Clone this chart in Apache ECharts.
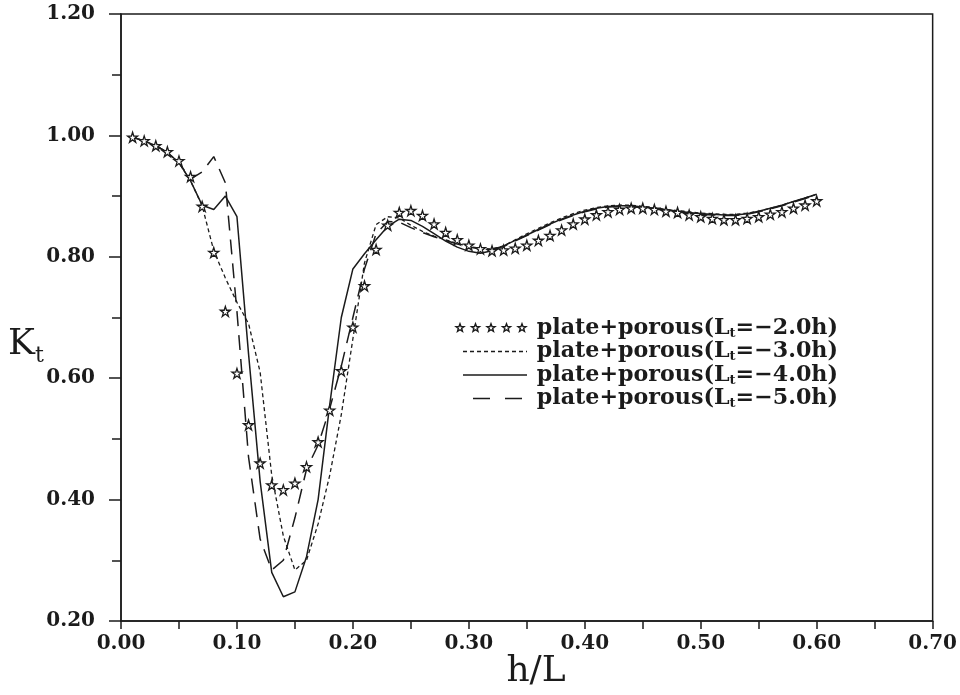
<!DOCTYPE html>
<html>
<head>
<meta charset="utf-8">
<script src="https://cdn.jsdelivr.net/npm/echarts@6/dist/echarts.min.js"></script>
<style>
  html, body { margin: 0; padding: 0; background: #fff; }
  #chart { width: 960px; height: 695px; }
</style>
</head>
<body>
<div id="chart"></div>
<script>
// Relative depth h/L
const hL = [
  0.01, 0.02, 0.03, 0.04, 0.05, 0.06, 0.07, 0.08, 0.09, 0.10,
  0.11, 0.12, 0.13, 0.14, 0.15, 0.16, 0.17, 0.18, 0.19, 0.20,
  0.21, 0.22, 0.23, 0.24, 0.25, 0.26, 0.27, 0.28, 0.29, 0.30,
  0.31, 0.32, 0.33, 0.34, 0.35, 0.36, 0.37, 0.38, 0.39, 0.40,
  0.41, 0.42, 0.43, 0.44, 0.45, 0.46, 0.47, 0.48, 0.49, 0.50,
  0.51, 0.52, 0.53, 0.54, 0.55, 0.56, 0.57, 0.58, 0.59, 0.60
];

// Transmission coefficient Kt, plate + porous, Lt = -2.0h
const kt20 = [
  0.997, 0.991, 0.983, 0.973, 0.958, 0.932, 0.883, 0.807, 0.710, 0.608,
  0.523, 0.460, 0.424, 0.416, 0.427, 0.454, 0.495, 0.547, 0.612, 0.684,
  0.752, 0.812, 0.852, 0.873, 0.876, 0.868, 0.854, 0.840, 0.828, 0.819,
  0.813, 0.810, 0.811, 0.814, 0.819, 0.827, 0.835, 0.844, 0.854, 0.862,
  0.869, 0.874, 0.878, 0.880, 0.880, 0.878, 0.875, 0.873, 0.869, 0.866,
  0.863, 0.861, 0.861, 0.863, 0.866, 0.870, 0.874, 0.880, 0.885, 0.892
];

// Lt = -3.0h
const kt30 = [
  0.997, 0.991, 0.983, 0.972, 0.955, 0.925, 0.884, 0.810, 0.765, 0.725,
  0.690, 0.610, 0.440, 0.340, 0.284, 0.300, 0.360, 0.440, 0.540, 0.665,
  0.790, 0.853, 0.866, 0.864, 0.852, 0.842, 0.834, 0.828, 0.822, 0.817,
  0.814, 0.813, 0.818, 0.828, 0.838, 0.847, 0.856, 0.864, 0.871, 0.877,
  0.881, 0.884, 0.885, 0.885, 0.883, 0.881, 0.878, 0.876, 0.874, 0.872,
  0.871, 0.870, 0.870, 0.872, 0.875, 0.880, 0.885, 0.891, 0.897, 0.903
];

// Lt = -4.0h
const kt40 = [
  0.997, 0.991, 0.983, 0.972, 0.955, 0.925, 0.885, 0.878, 0.900, 0.866,
  0.640, 0.430, 0.280, 0.240, 0.248, 0.306, 0.400, 0.556, 0.700, 0.780,
  0.805, 0.828, 0.850, 0.862, 0.860, 0.850, 0.838, 0.826, 0.816, 0.809,
  0.806, 0.810, 0.818, 0.827, 0.836, 0.845, 0.854, 0.862, 0.869, 0.875,
  0.880, 0.883, 0.884, 0.884, 0.882, 0.880, 0.877, 0.875, 0.873, 0.871,
  0.870, 0.869, 0.869, 0.871, 0.875, 0.880, 0.885, 0.891, 0.897, 0.903
];

// Lt = -5.0h
const kt50 = [
  0.997, 0.991, 0.983, 0.972, 0.955, 0.928, 0.940, 0.965, 0.922, 0.710,
  0.470, 0.335, 0.284, 0.300, 0.370, 0.450, 0.490, 0.550, 0.620, 0.700,
  0.780, 0.838, 0.858, 0.857, 0.848, 0.840, 0.833, 0.827, 0.821, 0.816,
  0.813, 0.813, 0.817, 0.826, 0.835, 0.844, 0.853, 0.861, 0.868, 0.874,
  0.879, 0.882, 0.883, 0.883, 0.881, 0.879, 0.876, 0.874, 0.872, 0.870,
  0.869, 0.868, 0.868, 0.870, 0.874, 0.879, 0.884, 0.890, 0.896, 0.902
];

const seriesNames = ['Lt=-2.0h', 'Lt=-3.0h', 'Lt=-4.0h', 'Lt=-5.0h'];
const legendValues = ['−2.0h', '−3.0h', '−4.0h', '−5.0h'];

const INK = '#1b1b1b';
const SERIF = '"DejaVu Serif", "Liberation Serif", serif';
const STAR = 'M50,2 L61.2,36.3 L97.6,36.3 L68.2,57.6 L79.4,91.9 L50,70.7 L20.6,91.9 L31.8,57.6 L2.4,36.3 L38.8,36.3 Z';

const pairs = arr => hL.map((x, i) => [x, arr[i]]);

// Five-pointed star outline as polygon points around (cx, cy)
function starPoints(cx, cy, r) {
  const pts = [];
  for (let k = 0; k < 10; k++) {
    const rr = k % 2 === 0 ? r : r * 0.42;
    const a = -Math.PI / 2 + k * Math.PI / 5;
    pts.push([cx + rr * Math.cos(a), cy + rr * Math.sin(a)]);
  }
  return pts;
}

const chart = echarts.init(document.getElementById('chart'), null, { renderer: 'canvas' });

// Legend, drawn as graphic elements: sample mark + label per row
const legendTop = 328, legendStep = 23.5;
const extras = [];
legendValues.forEach((v, i) => {
  const cy = legendTop + i * legendStep;
  if (i === 0) {
    for (let k = 0; k < 5; k++) {
      extras.push({
        type: 'polygon',
        shape: { points: starPoints(460 + k * 15.5, cy, 4.2) },
        style: { fill: '#fff', stroke: INK, lineWidth: 1.4 }
      });
    }
  } else {
    const dash = i === 1 ? [4, 3] : (i === 2 ? null : [17, 15]);
    const x1 = i === 3 ? 473 : 463;
    extras.push({
      type: 'line',
      shape: { x1: x1, y1: cy, x2: 527, y2: cy },
      style: { stroke: INK, lineWidth: 1.4, lineDash: dash }
    });
  }
  extras.push({
    type: 'text',
    x: 838, y: cy,
    style: {
      text: '{a|plate+porous(L}{s|t}{a|=' + v + ')}',
      align: 'right',
      verticalAlign: 'middle',
      rich: {
        a: { fontFamily: SERIF, fontWeight: 'bold', fontSize: 22.2, fill: INK, lineHeight: 24 },
        s: { fontFamily: SERIF, fontWeight: 'bold', fontSize: 13, fill: INK, lineHeight: 16, verticalAlign: 'bottom' }
      }
    }
  });
});

// Axis titles
extras.push({
  type: 'text',
  x: 8, y: 345,
  style: {
    text: '{k|K}{t|t}',
    align: 'left',
    verticalAlign: 'middle',
    rich: {
      k: { fontFamily: SERIF, fontSize: 36, fill: INK, lineHeight: 44 },
      t: { fontFamily: SERIF, fontSize: 22, fill: INK, lineHeight: 26, verticalAlign: 'bottom' }
    }
  }
});
extras.push({
  type: 'text',
  x: 536, y: 672,
  style: {
    text: 'h/L',
    align: 'center',
    verticalAlign: 'middle',
    fontFamily: SERIF, fontSize: 36, fill: INK
  }
});

const option = {
  backgroundColor: '#fff',
  animation: false,
  grid: {
    left: 121, right: 27, top: 14, bottom: 74,
    show: true, borderColor: INK, borderWidth: 1.5, backgroundColor: 'transparent'
  },
  xAxis: {
    type: 'value',
    min: 0, max: 0.7, interval: 0.1,
    axisLine: { show: true, lineStyle: { color: INK, width: 1.5 } },
    axisTick: { show: true, inside: false, length: 8, lineStyle: { color: INK, width: 1.5 } },
    minorTick: { show: true, splitNumber: 2, length: 8, lineStyle: { color: INK, width: 1.5 } },
    splitLine: { show: false },
    axisLabel: {
      margin: 13,
      formatter: v => v.toFixed(2),
      fontFamily: SERIF, fontWeight: 'bold', fontSize: 20, color: INK
    }
  },
  yAxis: {
    type: 'value',
    min: 0.2, max: 1.2, interval: 0.2,
    axisLine: { show: true, lineStyle: { color: INK, width: 1.5 } },
    axisTick: { show: true, inside: false, length: 12, lineStyle: { color: INK, width: 1.5 } },
    minorTick: { show: true, splitNumber: 2, length: 9, lineStyle: { color: INK, width: 1.5 } },
    splitLine: { show: false },
    axisLabel: {
      margin: 26,
      formatter: v => v.toFixed(2),
      fontFamily: SERIF, fontWeight: 'bold', fontSize: 20, color: INK
    }
  },
  graphic: extras,
  series: [
    {
      name: seriesNames[1],
      type: 'line',
      data: pairs(kt30),
      showSymbol: false,
      lineStyle: { color: INK, width: 1.3, type: [4, 3] },
      z: 2
    },
    {
      name: seriesNames[2],
      type: 'line',
      data: pairs(kt40),
      showSymbol: false,
      lineStyle: { color: INK, width: 1.5, type: 'solid' },
      z: 2
    },
    {
      name: seriesNames[3],
      type: 'line',
      data: pairs(kt50),
      showSymbol: false,
      lineStyle: { color: INK, width: 1.5, type: [15, 9] },
      z: 2
    },
    {
      name: seriesNames[0],
      type: 'scatter',
      data: pairs(kt20),
      symbol: 'path://' + STAR,
      symbolSize: 10,
      itemStyle: { color: '#fff', borderColor: INK, borderWidth: 1.3, opacity: 1 },
      z: 3
    }
  ]
};

chart.setOption(option);
</script>
</body>
</html>
